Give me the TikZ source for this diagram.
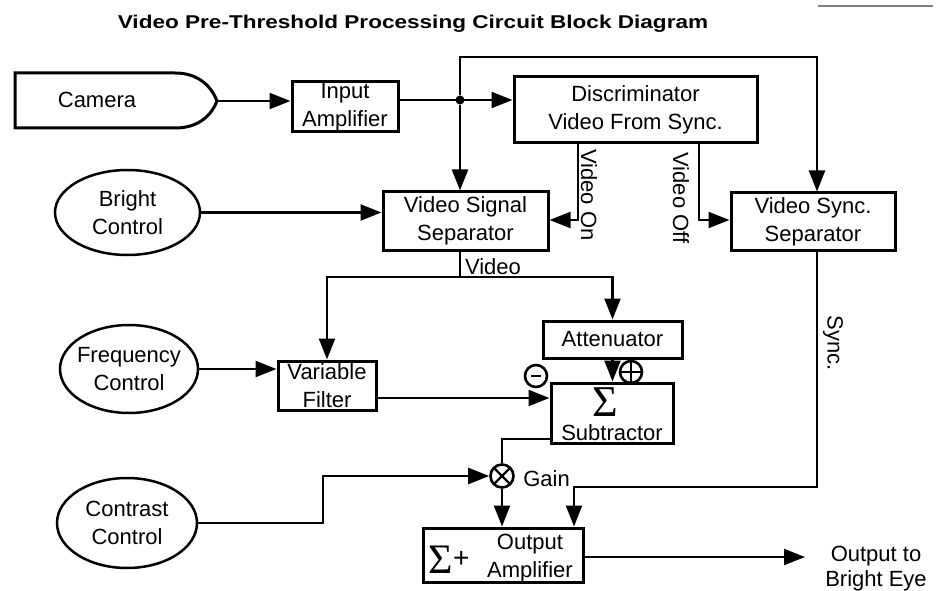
\documentclass[tikz,border=0pt]{standalone}
\usepackage{fontspec}
\setmainfont{Liberation Sans}
\newfontfamily\sumfont{Liberation Serif}
\usepackage{graphicx}
\usepackage{xcolor}
\usepackage{tikz}
\usetikzlibrary{arrows.meta,positioning,calc,shapes.geometric}
\definecolor{ink}{HTML}{000000}
\tikzset{
  block/.style={draw=ink,line width=3pt,inner sep=0pt,align=center},
  ctrl/.style={ellipse,draw=ink,line width=2.5pt,inner xsep=-20pt,inner ysep=0pt,align=center},
  arr/.style={-{Triangle[length=21pt,width=16pt]},line width=2.4pt,draw=ink},
  wire/.style={line width=2.4pt,draw=ink},
  sign/.style={circle,draw=ink,line width=2.6pt,inner sep=0pt,fill=white},
  vlbl/.style={rotate=-90,inner sep=0pt}
}

\begin{document}
\begin{tikzpicture}[x=1pt,y=-1pt,font=\fontsize{22}{28}\selectfont]
  \fill[white] (0,0) rectangle (943,591);
  \useasboundingbox (0,0) rectangle (943,591);
  \node[inner sep=0pt] (title) at (413,23.5) {\scalebox{1.22}[1]{\fontsize{18.5}{20}\selectfont\bfseries Video Pre-Threshold Processing Circuit Block Diagram}};
  \draw[line width=1.2pt,gray] (818,6) -- (933,6);

  % source and front end
  \draw[line width=3pt,draw=ink] (15,73) -- (175,73) .. controls (200,73) and (212,88) .. (217,101) coordinate (camtip) .. controls (212,114) and (200,128) .. (175,128) -- (15,128) -- cycle;
  \node (cam) at (97,100) {Camera};
  \node[block,minimum width=106pt,minimum height=50pt] (inamp) at (345,107) {Input\\Amplifier};
  \node[block,minimum width=243pt,minimum height=66pt] (disc) at (635.5,110) {Discriminator\\Video From Sync.};
  \node[circle,fill=ink,inner sep=0pt,minimum size=9pt] (dot) at (460,100) {};
  \node[block,minimum width=165pt,minimum height=58pt] (vss) at (465.5,221) {Video Signal\\Separator};
  \node[block,minimum width=164pt,minimum height=57pt] (vsync) at (813,221.5) {Video Sync.\\Separator};

  % controls
  \node[ctrl,minimum width=145pt,minimum height=85pt] (bright) at (127.5,212.5) {Bright\\Control};
  \node[ctrl,minimum width=138pt,minimum height=88pt] (freq) at (129,369) {Frequency\\Control};
  \node[ctrl,minimum width=140pt,minimum height=90pt] (contrast) at (127,523) {Contrast\\Control};

  % filter and subtractor
  \node[block,minimum width=98pt,minimum height=49pt] (vf) at (327,385.5) {Variable\\Filter};
  \node[block,minimum width=139pt,minimum height=37pt] (att) at (612.5,339.5) {Attenuator};
  \node[block,minimum width=122pt,minimum height=60pt] (sub) at (612,413) {};
  \node[inner sep=0pt] (subsum) at (605,402) {\sumfont\fontsize{44}{44}\selectfont Σ};
  \node[anchor=base,inner sep=0pt] (subtxt) at (612,440) {Subtractor};
  \node[sign,minimum size=22pt,path picture={\draw[line width=2.4pt] (path picture bounding box.north) -- (path picture bounding box.south) (path picture bounding box.west) -- (path picture bounding box.east);}] (plus) at (631,372) {};
  \node[sign,minimum size=22pt,path picture={\draw[line width=2.4pt] ([xshift=-5pt]path picture bounding box.center) -- ([xshift=5pt]path picture bounding box.center);}] (minus) at (536,376) {};

  % gain and output
  \node[sign,minimum size=23pt,path picture={\draw[line width=2.4pt] (path picture bounding box.north west) -- (path picture bounding box.south east) (path picture bounding box.north east) -- (path picture bounding box.south west);}] (gain) at (502,476) {};
  \node[inner sep=0pt] (gainlbl) at (546.5,479) {Gain};
  \node[block,minimum width=160pt,minimum height=54pt] (oamp) at (503,555) {};
  \node[inner sep=0pt] (oasum) at (449,560) {{\sumfont\fontsize{42}{42}\selectfont Σ}{\fontsize{28}{28}\selectfont\raisebox{6pt}{+}}};
  \node[align=center] (oatxt) at (530,558) {Output\\Amplifier};
  \node[align=center,font=\fontsize{22}{25}\selectfont] (eyelbl) at (876,569) {Output to\\Bright Eye};

  % signal labels
  \node[vlbl] (vonlbl) at (589,195) {Video On};
  \node[vlbl] (vofflbl) at (681,198) {Video Off};
  \node[vlbl] (synclbl) at (833,343) {Sync.};
  \node[inner sep=0pt] (vidlbl) at (493,267) {Video};

  \coordinate (toprt) at (817,57);
  \coordinate (von) at (578,220);
  \coordinate (voff) at (699,220);
  \coordinate (vsplit) at (460,277);
  \coordinate (vfout) at ($(vf.east)+(0,12.5)$);
  \coordinate (subout) at ($(sub.west)+(0,26)$);
  \coordinate (cjog) at (323,476);
  \coordinate (syncin) at (574,487);
  \coordinate (eye) at (805,557);

  \draw[arr] (camtip) -- (camtip -| inamp.west);
  \draw[arr] (inamp.east |- dot) -- (dot -| disc.west);
  \draw[arr] (dot) -- (dot |- vss.north);
  \draw[arr] (dot) |- (toprt) -- (toprt |- vsync.north);
  \draw[arr] (von |- disc.south) -- (von) -- (von -| vss.east);
  \draw[arr] (voff |- disc.south) -- (voff) -- (voff -| vsync.west);
  \draw[arr] (bright.east) -- (bright.east -| vss.west);
  \draw[wire] (vsplit |- vss.south) -- (vsplit);
  \draw[arr] (vsplit) -| (vf.north);
  \draw[arr] (vsplit) -| (att.north);
  \draw[arr] (freq.east) -- (freq.east -| vf.west);
  \draw[arr] (vfout) -- (vfout -| sub.west);
  \draw[arr] (att.south) -- (att.south |- sub.north);
  \draw[wire] (subout) -| (gain.north);
  \draw[arr] (contrast.east) -| (cjog) -- (gain.west);
  \draw[arr] (gain.south) -- (gain.south |- oamp.north);
  \draw[arr] (toprt |- vsync.south) |- (syncin) -- (syncin |- oamp.north);
  \draw[arr] (oamp.east |- eye) -- (eye);
\end{tikzpicture}
\end{document}
